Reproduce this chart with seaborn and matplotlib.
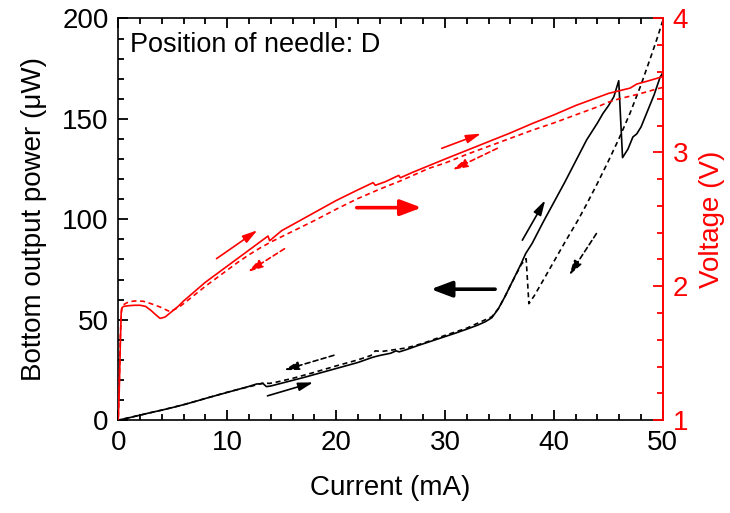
import matplotlib
matplotlib.use("Agg")
import matplotlib.pyplot as plt
import seaborn as sns
import pandas as pd
from matplotlib.ticker import MultipleLocator

# ---- data: optical power (left axis) ----
current_up = [0, 1, 2, 3, 4, 5, 6, 7, 8, 9, 10, 11, 12, 12.7, 13.3, 13.6, 14, 15, 16, 17,
              18, 19, 20, 21, 22, 23.2, 23.5, 24, 25, 25.5, 25.8, 26.5, 27.6, 29, 30, 31,
              32, 33, 33.7, 34.3, 34.9, 35.5, 36, 37, 37.4, 38, 39, 40, 41, 42, 43, 44,
              44.5, 45, 45.5, 45.95, 46.3, 46.8, 47.25, 47.6, 48, 48.6, 49.2, 49.75, 50]
power_up = [0, 1.2, 2.5, 3.8, 5.0, 6.3, 7.7, 9.2, 10.8, 12.3, 13.8, 15.3, 16.8, 18.0, 18.2,
            16.7, 17.0, 18.4, 19.8, 21.2, 22.7, 24.2, 25.7, 27.2, 28.7, 31.0, 31.5, 32.2,
            33.3, 34.5, 34.0, 35.2, 37.3, 39.8, 41.6, 43.4, 45.3, 47.3, 49.0, 51.0, 55.5,
            61.5, 67, 78, 82.9, 88, 98.5, 108.5, 118.5, 129, 139.5, 148, 152.7, 156.5,
            161, 169, 130.7, 135, 141, 142.5, 146, 154, 162, 170.8, 173]

current_down = [50, 49.5, 49, 48, 47, 46, 45, 44, 43, 42.2, 41, 40, 39, 38.2, 37.7, 37.45,
                37, 36, 35.5, 34.9, 34.3, 33.5, 32, 30, 28, 26.5, 25.5, 24.2, 23.6, 23.2,
                22, 20, 18, 16, 14.5, 13.9, 13.3, 12.5, 11, 10, 8, 6, 4, 2, 0]
power_down = [199, 190.5, 182.5, 167, 153, 140.5, 129, 118, 107.5, 99.5, 88.5, 79, 69.5,
              62, 58, 80.4, 77.5, 67, 61.5, 55.5, 51.5, 49.5, 45.8, 42.2, 38.3, 36, 35.2,
              34.2, 34.5, 32.2, 30.0, 27.0, 23.8, 20.8, 18.9, 18.3, 18.5, 17.3, 15.3, 13.9,
              10.8, 7.7, 5.0, 2.5, 0]

# ---- data: voltage (right axis) ----
v_current_up = [0, 0.1, 0.2, 0.27, 0.35, 0.5, 1, 1.5, 2, 2.5, 3, 3.4, 3.84, 4.3, 4.9, 5.5,
                6, 7, 8, 9, 10, 11, 12, 13, 13.75, 13.9, 15, 16, 17, 18, 19, 20, 21, 22,
                23.4, 23.6, 24.5, 25.75, 25.9, 27, 28.5, 30, 32, 34, 36, 38, 40, 42, 44,
                45, 46, 47, 47.4, 47.6, 48.5, 49.75, 50]
voltage_up = [1.0, 1.25, 1.6, 1.80, 1.84, 1.85, 1.855, 1.858, 1.858, 1.85, 1.82, 1.79, 1.76,
              1.77, 1.81, 1.85, 1.89, 1.96, 2.03, 2.09, 2.15, 2.21, 2.27, 2.33, 2.375, 2.34,
              2.415, 2.46, 2.505, 2.55, 2.595, 2.64, 2.68, 2.72, 2.774, 2.754, 2.78, 2.828,
              2.81, 2.85, 2.90, 2.95, 3.015, 3.08, 3.145, 3.215, 3.28, 3.35, 3.41, 3.44,
              3.46, 3.48, 3.50, 3.51, 3.53, 3.56, 3.565]

v_current_down = [50, 49.5, 48, 46, 45, 44, 42, 40, 38, 36, 34, 32, 30, 28.5, 26, 24, 22,
                  21, 20, 18, 16, 15, 14, 13, 12, 11, 10, 9, 8, 7, 6, 5.5, 4.75, 3.84, 3.0,
                  2.3, 1.55, 1.0, 0.64, 0.45, 0.3, 0.2, 0.1, 0]
voltage_down = [3.485, 3.475, 3.44, 3.40, 3.375, 3.34, 3.28, 3.22, 3.165, 3.105, 3.045,
                2.985, 2.92, 2.88, 2.79, 2.725, 2.655, 2.615, 2.575, 2.49, 2.41, 2.37, 2.33,
                2.285, 2.235, 2.18, 2.12, 2.06, 2.0, 1.935, 1.87, 1.84, 1.81, 1.845, 1.87,
                1.888, 1.89, 1.885, 1.87, 1.86, 1.83, 1.65, 1.3, 1.0]

x_ticks = [0, 10, 20, 30, 40, 50]
p_ticks = [0, 50, 100, 150, 200]
v_ticks = [1, 2, 3, 4]

# ---- style ----
sns.set_style("ticks")
plt.rcParams.update({
    "font.family": ["Liberation Sans", "DejaVu Sans"],
    "axes.linewidth": 1.2,
    "text.color": "black",
    "axes.labelcolor": "black",
    "axes.edgecolor": "black",
})

RED = "#ff0000"

fig = plt.figure(figsize=(7.30, 5.13), dpi=100)
ax = fig.add_axes([0.162, 0.181, 0.746, 0.783])
ax2 = ax.twinx()

df_pu = pd.DataFrame({"I": current_up, "P": power_up})
df_pd = pd.DataFrame({"I": current_down, "P": power_down})
df_vu = pd.DataFrame({"I": v_current_up, "V": voltage_up})
df_vd = pd.DataFrame({"I": v_current_down, "V": voltage_down})

sns.lineplot(data=df_pu, x="I", y="P", ax=ax, sort=False, estimator=None,
             color="black", lw=1.2)
sns.lineplot(data=df_pd, x="I", y="P", ax=ax, sort=False, estimator=None,
             color="black", lw=1.2, linestyle=(0, (3, 2.2)))
sns.lineplot(data=df_vu, x="I", y="V", ax=ax2, sort=False, estimator=None,
             color=RED, lw=1.2)
sns.lineplot(data=df_vd, x="I", y="V", ax=ax2, sort=False, estimator=None,
             color=RED, lw=1.2, linestyle=(0, (3, 2.2)))

ax.set_xlim(0, 50)
ax.set_ylim(0, 200)
ax2.set_ylim(1, 4)
ax.set_xticks(x_ticks)
ax.set_yticks(p_ticks)
ax2.set_yticks(v_ticks)
ax.xaxis.set_minor_locator(MultipleLocator(2))
ax.yaxis.set_minor_locator(MultipleLocator(10))
ax2.yaxis.set_minor_locator(MultipleLocator(0.2))

ax.tick_params(axis="x", which="both", direction="in", top=True, bottom=True,
               colors="black", labelsize=20, pad=7)
ax.tick_params(axis="y", which="both", direction="in", left=True, right=False,
               colors="black", labelsize=20, pad=7)
ax.tick_params(which="major", length=7, width=1.3)
ax.tick_params(which="minor", length=4, width=1.3)
ax2.tick_params(axis="y", which="both", direction="in", right=True, left=False,
                colors=RED, labelsize=20, pad=7)
ax2.tick_params(axis="y", which="major", length=7, width=1.3)
ax2.tick_params(axis="y", which="minor", length=4, width=1.3)

for side in ["left", "bottom", "top"]:
    ax.spines[side].set_visible(True)
    ax.spines[side].set_color("black")
ax2.spines["right"].set_visible(True)
ax2.spines["right"].set_color(RED)
ax2.spines["right"].set_linewidth(1.4)
ax.spines["right"].set_visible(False)
ax2.spines["left"].set_visible(False)
ax2.spines["top"].set_visible(False)
ax2.spines["bottom"].set_visible(False)

ax.set_xlabel("Current (mA)", fontsize=20, labelpad=14)
ax.set_ylabel("Bottom output power (μW)", fontsize=20, labelpad=11)
ax2.set_ylabel("Voltage (V)", fontsize=20, color=RED, labelpad=8)

ax.text(0.022, 0.935, "Position of needle: D", transform=ax.transAxes,
        fontsize=19.5, ha="left", va="center", color="black")

# ---- arrows ----
thin = dict(arrowstyle="-|>,head_length=0.6,head_width=0.17", mutation_scale=15,
            lw=1.2, shrinkA=0, shrinkB=0)
thick = dict(arrowstyle="-|>,head_length=0.85,head_width=0.32", mutation_scale=15,
             lw=2.6, shrinkA=0, shrinkB=0)

def arrow(axis, start, end, color, style, dashed=False):
    props = dict(style, color=color)
    if dashed:
        props["linestyle"] = (0, (3, 2))
    axis.annotate("", xy=end, xytext=start, arrowprops=props)

# black (power)
arrow(ax, (13.7, 12.1), (17.9, 18.8), "black", thin)
arrow(ax, (19.8, 32.3), (15.2, 24.9), "black", thin, dashed=True)
arrow(ax, (37.1, 89.6), (39.2, 109.5), "black", thin)
arrow(ax, (43.9, 92.9), (41.4, 72.1), "black", thin, dashed=True)
arrow(ax, (34.6, 65.2), (28.7, 65.2), "black", thick)
# red (voltage)
arrow(ax2, (9.02, 2.206), (12.77, 2.418), RED, thin)
arrow(ax2, (15.26, 2.28), (11.9, 2.107), RED, thin, dashed=True)
arrow(ax2, (29.7, 3.03), (33.3, 3.14), RED, thin)
arrow(ax2, (34.8, 3.03), (30.7, 2.87), RED, thin, dashed=True)
arrow(ax2, (21.9, 2.587), (27.85, 2.587), RED, thick)

fig.savefig("out.png", dpi=100)
